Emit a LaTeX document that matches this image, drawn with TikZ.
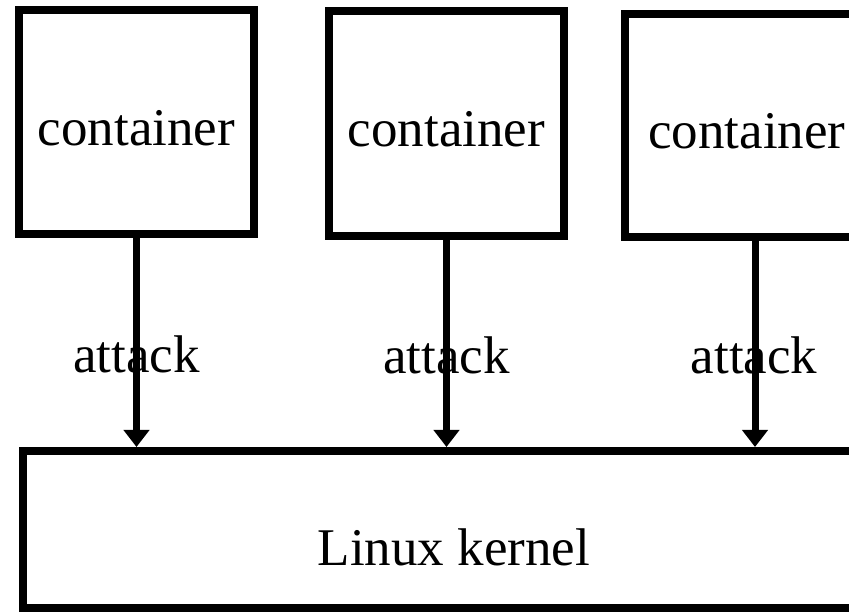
\documentclass[tikz,border=0pt]{standalone}
\usepackage{fontspec}
\setmainfont{Liberation Serif}
\usetikzlibrary{arrows.meta, positioning, shadows}

\begin{document}
\begin{tikzpicture}[x=1pt, y=1pt,
    font=\fontsize{53}{60}\selectfont,
    box/.style={draw, line width=8pt, fill=white, inner sep=0pt,
        drop shadow={opacity=0.3, shadow xshift=2pt, shadow yshift=-3pt}},
    cbox/.style={box, text height=47pt, text depth=0pt},
    attackarrow/.style={line width=7pt, -{Triangle[length=17pt, width=25pt]}}]
    \useasboundingbox (0,0) rectangle (849,611);
    % containers
    \node [cbox, minimum width=235pt, minimum height=224pt] (c1) at (136.5,489) {container};
    \node [cbox, minimum width=235pt, minimum height=225pt] (c2) at (446.5,487.5) {container};
    \node [cbox, minimum width=244pt, minimum height=223pt] (c3) at (747,485.5) {container};
    % kernel
    \node [box, minimum width=862pt, minimum height=157pt] (kernel) at (454,81.5) {};
    \node (kname) at ([yshift=-18pt]kernel.center) {Linux kernel};
    % labels sit behind the arrows
    \node [below=98pt of c1, inner sep=0pt] (atk1) {attack};
    \node [below=97pt of c2, inner sep=0pt] (atk2) {attack};
    \node [below=96pt of c3, xshift=7pt, inner sep=0pt] (atk3) {attack};
    % arrows
    \draw [attackarrow] (c1.south) -- (c1.south |- kernel.north);
    \draw [attackarrow] (c2.south) -- (c2.south |- kernel.north);
    \draw [attackarrow] ([xshift=8pt]c3.south) -- ([xshift=8pt]c3.south |- kernel.north);
\end{tikzpicture}
\end{document}
